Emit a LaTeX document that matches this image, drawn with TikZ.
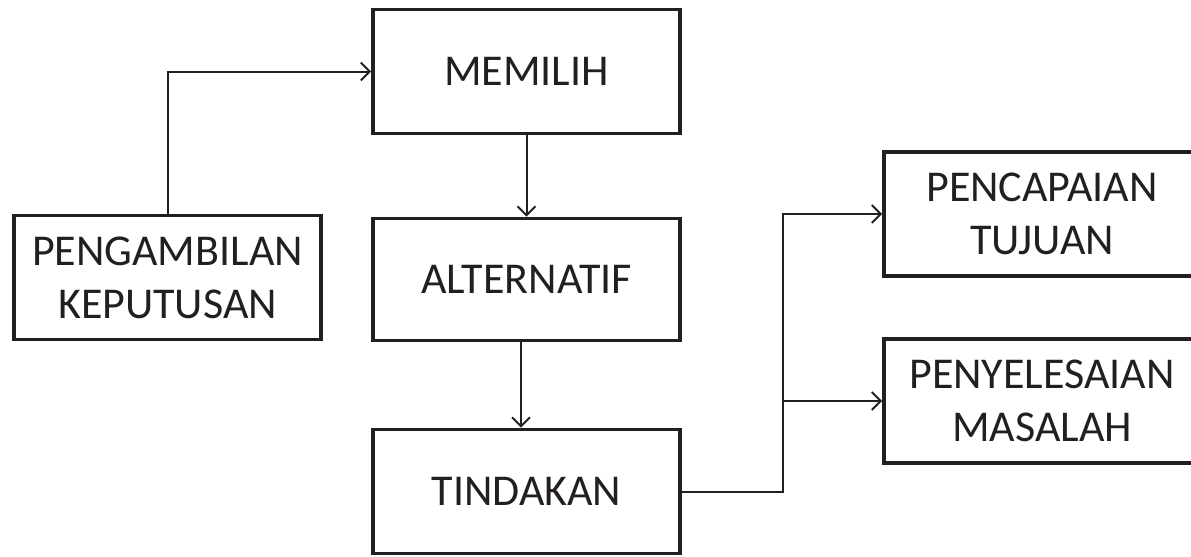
\documentclass[tikz,border=0pt]{standalone}
\usepackage{fontspec}
\setmainfont{Carlito}
\usetikzlibrary{arrows.meta}
\definecolor{ink}{HTML}{231F20}
\begin{document}
\begin{tikzpicture}[x=0.5pt,y=-0.5pt,
  box/.style={draw=ink, line width=1.8pt, text=ink, align=center,
    minimum width=153.5pt, minimum height=62pt, inner sep=0pt,
    font=\fontsize{22}{26.5}\selectfont},
  widebox/.style={box, minimum width=158pt},
  arr/.style={draw=ink, line width=1pt,
    -{Straight Barb[length=4.5pt,width=9pt,line width=1pt]}},
  link/.style={draw=ink, line width=1pt}]
\useasboundingbox (0,0) rectangle (1191,557);
\clip (0,0) rectangle (1191,557);

\node[box] (dec) at (167.5,277.5) {PENGAMBILAN\\KEPUTUSAN};
\node[box] (mem) at (526.5,71.5) {MEMILIH};
\node[box, minimum height=61pt] (alt) at (526.5,279.5) {ALTERNATIF};
\node[box] (tin) at (526.5,491.5) {TINDAKAN};
\node[widebox] (pen) at (1042,214) {PENCAPAIAN\\TUJUAN};
\node[widebox] (pyl) at (1042,401) {PENYELESAIAN\\MASALAH};

\coordinate (drop) at (521,0);
\coordinate (split) at (783,0);

\draw[arr] (dec.north) |- (mem.west);
\draw[arr] (mem.south) -- (alt.north);
\draw[arr] (alt.south -| drop) -- (tin.north -| drop);
\draw[arr] (tin.east) -| (split |- pen.west) -- (pen.west);
\draw[arr] (split |- pyl.west) -- (pyl.west);
\end{tikzpicture}
\end{document}
